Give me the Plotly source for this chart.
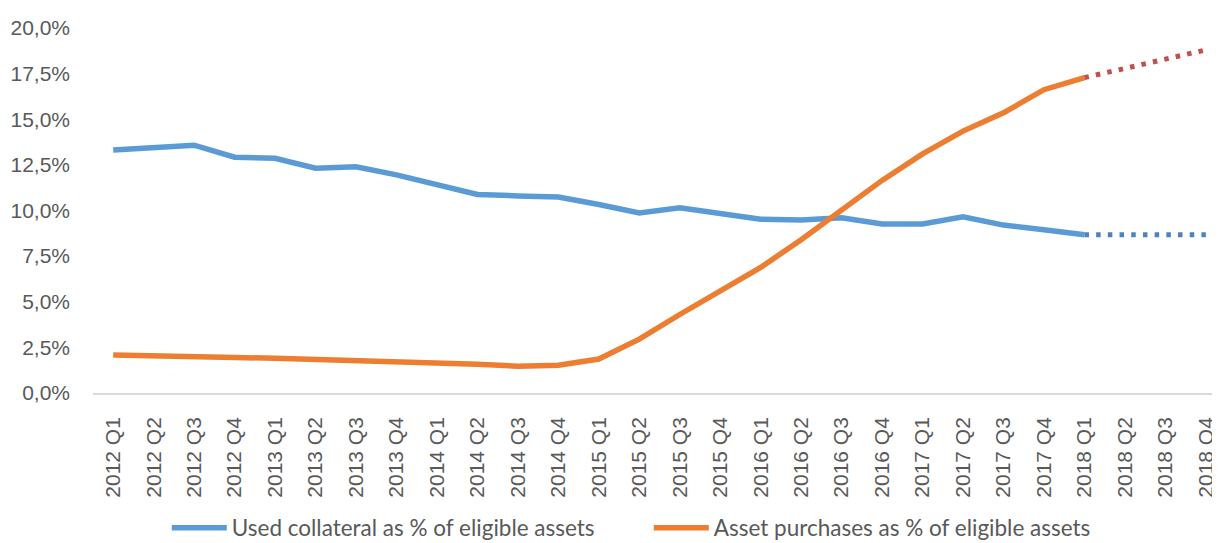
import plotly.graph_objects as go

quarters = [f"{y} Q{q}" for y in range(2012, 2019) for q in range(1, 5)]

used_collateral = [13.32, 13.48, 13.58, 12.92, 12.86, 12.32, 12.40, 11.95, 11.40, 10.88,
                   10.80, 10.74, 10.33, 9.86, 10.15, 9.80, 9.52, 9.48, 9.60, 9.26,
                   9.26, 9.65, 9.20, 8.95, 8.67]
used_collateral_proj = [8.67, 8.67, 8.67, 8.67]

asset_purchases = [2.08, 2.05, 2.05, 1.95, 1.90, 1.84, 1.80, 1.74, 1.68, 1.58,
                   1.47, 1.52, 1.86, 2.95, 4.30, 5.60, 6.88, 8.40, 10.05, 11.65,
                   13.10, 14.35, 15.35, 16.62, 17.28]
asset_purchases_proj = [17.28, 17.78, 18.28, 18.80]

y_ticks = [0, 2.5, 5, 7.5, 10, 12.5, 15, 17.5, 20]
y_tick_labels = ["0,0%", "2,5%", "5,0%", "7,5%", "10,0%", "12,5%", "15,0%", "17,5%", "20,0%"]

TICK_FONT = "Liberation Sans, Arial, sans-serif"
LEGEND_FONT = "Lato"
GRAY = "#595959"

fig = go.Figure()
fig.add_trace(go.Scatter(x=quarters[:25], y=used_collateral, mode="lines",
                         name="Used collateral as % of eligible assets",
                         line=dict(color="#5B9BD5", width=5.5)))
fig.add_trace(go.Scatter(x=quarters[:25], y=asset_purchases, mode="lines",
                         name="Asset purchases as % of eligible assets",
                         line=dict(color="#ED7D31", width=5.5)))
fig.add_trace(go.Scatter(x=quarters[24:], y=used_collateral_proj, mode="lines",
                         showlegend=False,
                         line=dict(color="#4F81BD", width=5, dash="4.5px,7.2px")))
fig.add_trace(go.Scatter(x=quarters[24:], y=asset_purchases_proj, mode="lines",
                         showlegend=False,
                         line=dict(color="#C0504D", width=5, dash="4.5px,7.2px")))

fig.update_layout(
    width=1212, height=535,
    margin=dict(l=85, r=0, t=20, b=150, autoexpand=False),
    paper_bgcolor="white", plot_bgcolor="white",
    font=dict(family=TICK_FONT, size=21, color=GRAY),
    showlegend=True,
    legend=dict(orientation="h", xref="container", yref="container",
                x=0.131, xanchor="left", y=0.028, yanchor="middle",
                font=dict(family=LEGEND_FONT, size=22.5, color=GRAY), itemwidth=55,
                entrywidth=412, bgcolor="rgba(0,0,0,0)"),
    xaxis=dict(type="category", categoryorder="array", categoryarray=quarters,
               range=[-0.5, 27.35], tickangle=-90, showgrid=False, automargin=False,
               showline=True, linecolor="#D9D9D9", linewidth=1.5, ticks="",
               ticklabelstandoff=14,
               tickfont=dict(family=TICK_FONT, size=21, color=GRAY)),
    yaxis=dict(range=[0, 20], tickvals=y_ticks, ticktext=y_tick_labels, automargin=False,
               showgrid=False, zeroline=False, showline=False, ticks="",
               ticklabelstandoff=22,
               tickfont=dict(family=TICK_FONT, size=21, color=GRAY)),
)

fig.write_html("out.html")
